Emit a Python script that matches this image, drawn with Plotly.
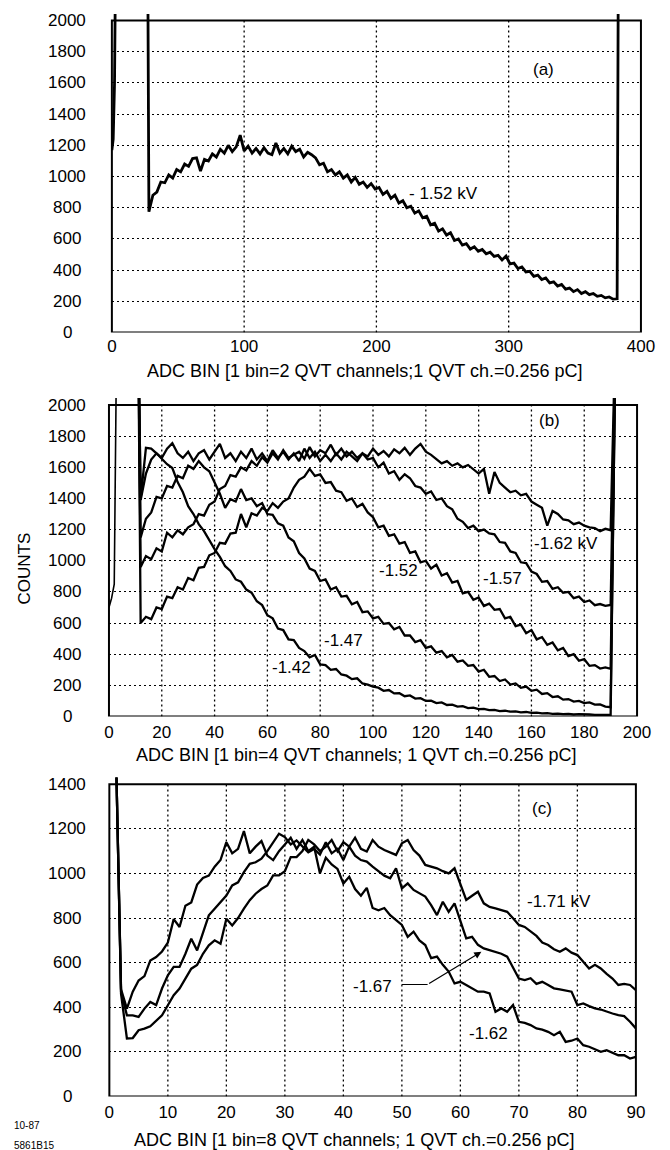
import plotly.graph_objects as go

W, H = 670, 1150
FONT = "Liberation Sans, Arial, Helvetica, sans-serif"
OFF = 2600  # counts beyond the top of the scale (drawn clipped)

# ---------------- Panel (a): -1.52 kV, 1 bin = 2 QVT channels ----------------
A_PRE_BINS = [0, 1, 2, 3, 27]
A_PRE_COUNTS = [1170, 1240, 1600, OFF, OFF]
A_START, A_STEP = 28, 3
A_COUNTS = [
    775, 880, 900, 965, 960, 1010, 990, 1045, 1030, 1080,
    1065, 1115, 1120, 1035, 1110, 1100, 1145, 1125, 1175, 1150,
    1200, 1160, 1190, 1265, 1165, 1195, 1150, 1180, 1145, 1185,
    1150, 1140, 1215, 1150, 1180, 1145, 1195, 1160, 1175, 1125,
    1155, 1140, 1120, 1075, 1085, 1030, 1045, 1010, 1030, 990,
    1010, 965, 995, 950, 965, 930, 955, 920, 930, 885,
    905, 860, 880, 830, 845, 800, 810, 765, 780, 735,
    745, 690, 700, 650, 665, 625, 640, 590, 600, 560,
    570, 535, 550, 520, 532, 505, 515, 488, 495, 465,
    490, 440, 445, 410, 420, 388, 392, 360, 368, 340,
    350, 318, 325, 298, 308, 278, 285, 262, 275, 250,
    262, 243, 250, 232, 238, 222, 228, 214, 216,
]
A_END_BIN = 383
A_XTICKS = [0, 100, 200, 300, 400]
A_YTICKS = [0, 200, 400, 600, 800, 1000, 1200, 1400, 1600, 1800, 2000]
A_LABELS = [("(a)", 326, 1683), ("- 1.52 kV", 251, 892)]

# ---------------- Panel (b): 1 bin = 4 QVT channels ----------------
B_PRE_BINS = [0, 1, 2, 3, 11]
B_PRE_COUNTS = [700, 760, 850, OFF, OFF]
B_START, B_STEP = 12, 2
B_FIRST_BIN, B_END_BIN = 11, 192
B_142 = [
    1400, 1725, 1720, 1690, 1655, 1620, 1595, 1505, 1440, 1350,
    1300, 1235, 1190, 1130, 1075, 1025, 965, 935, 880, 865,
    815, 795, 740, 715, 650, 630, 565, 555, 495, 490,
    440, 420, 380, 395, 335, 330, 300, 305, 270, 262,
    240, 245, 212, 205, 192, 185, 165, 170, 148, 150,
    130, 135, 115, 118, 100, 102, 86, 90, 74, 76,
    63, 66, 54, 57, 47, 49, 41, 43, 35, 37,
    31, 33, 27, 29, 23, 25, 20, 21, 17, 19,
    15, 17, 13, 15, 12, 13, 11, 12, 10, 10,
]
B_147 = [
    1150, 1270, 1310, 1410, 1400, 1480, 1470, 1545, 1530, 1610,
    1590, 1640, 1600, 1575, 1500, 1430, 1340, 1395, 1380, 1460,
    1390, 1400, 1350, 1370, 1300, 1295, 1240, 1225, 1150, 1125,
    1050, 1015, 950, 935, 870, 880, 815, 830, 770, 775,
    720, 735, 670, 675, 630, 640, 595, 600, 560, 575,
    520, 520, 478, 490, 440, 450, 410, 420, 380, 395,
    352, 360, 325, 330, 288, 300, 255, 260, 228, 238,
    205, 212, 184, 192, 165, 172, 145, 150, 125, 130,
    108, 112, 96, 100, 86, 90, 76, 78, 64, 60,
]
B_152 = [
    600, 640, 625, 700, 690, 770, 760, 830, 815, 890,
    875, 955, 960, 1035, 1050, 1115, 1110, 1175, 1180, 1300,
    1215, 1305, 1290, 1340, 1320, 1370, 1340, 1380, 1400, 1470,
    1520, 1540, 1590, 1545, 1555, 1500, 1505, 1450, 1440, 1385,
    1400, 1345, 1365, 1310, 1280, 1215, 1225, 1160, 1170, 1110,
    1120, 1050, 1060, 990, 1000, 950, 975, 905, 920, 860,
    870, 790, 800, 750, 765, 710, 725, 685, 690, 630,
    640, 580, 590, 535, 555, 495, 510, 460, 475, 425,
    440, 388, 400, 358, 368, 325, 330, 308, 315, 306,
]
B_157 = [
    1390, 1560, 1650, 1690, 1660, 1720, 1755, 1690, 1660, 1700,
    1640, 1690, 1710, 1650, 1700, 1750, 1660, 1690, 1640, 1700,
    1660, 1720, 1650, 1690, 1640, 1710, 1660, 1700, 1650, 1690,
    1640, 1720, 1660, 1700, 1640, 1680, 1640, 1690, 1650, 1700,
    1670, 1640, 1690, 1650, 1660, 1600, 1630, 1560, 1575, 1520,
    1555, 1530, 1480, 1470, 1430, 1445, 1390, 1400, 1350, 1330,
    1270, 1250, 1210, 1225, 1190, 1200, 1175, 1170, 1120, 1115,
    1060, 1050, 990, 985, 930, 915, 865, 870, 820, 830,
    795, 800, 760, 770, 735, 745, 715, 722, 710, 716,
]
B_162 = [
    960, 1030, 1010, 1080, 1060, 1180, 1150, 1195, 1170, 1215,
    1235, 1300, 1290, 1360, 1380, 1460, 1480, 1550, 1540, 1600,
    1580, 1640, 1610, 1665, 1630, 1690, 1650, 1710, 1660, 1680,
    1700, 1655, 1730, 1670, 1710, 1690, 1745, 1680, 1720, 1670,
    1700, 1660, 1690, 1670, 1720, 1680, 1705, 1670, 1715, 1690,
    1725, 1680, 1720, 1750, 1700, 1680, 1650, 1625, 1640, 1610,
    1625, 1600, 1615, 1590, 1560, 1590, 1430, 1570, 1500, 1470,
    1440, 1450, 1420, 1430, 1380, 1360, 1340, 1225, 1320, 1300,
    1265, 1260, 1235, 1245, 1225, 1215, 1210, 1190, 1205, 1196,
]
B_SERIES = [B_142, B_147, B_152, B_157, B_162]
B_XTICKS = [0, 20, 40, 60, 80, 100, 120, 140, 160, 180, 200]
B_YTICKS = A_YTICKS
B_LABELS = [("(b)", 167, 1900), ("-1.62 kV", 173, 1110), ("-1.57", 149, 885),
            ("-1.52", 109.5, 939), ("-1.47", 89, 485), ("-1.42", 69, 314)]

# ---------------- Panel (c): 1 bin = 8 QVT channels ----------------
C_START = 1
C_162 = [
    1700, 480, 394, 470, 520, 540, 610, 625, 650, 690,
    795, 760, 855, 870, 950, 980, 990, 1030, 1060, 1140,
    1090, 1110, 1190, 1090, 1120, 1145, 1080, 1060, 1100, 1130,
    1160, 1110, 1150, 1100, 1120, 1000, 1070, 1040, 1020, 955,
    985, 930, 900, 935, 845, 835, 845, 813, 790, 769,
    716, 739, 700, 679, 620, 627, 590, 560, 507, 514,
    500, 485, 470, 470, 462, 380, 395, 380, 410, 335,
    330, 320, 305, 300, 290, 275, 290, 245, 250, 260,
    230, 223, 210, 200, 208, 195, 185, 185, 170, 178,
]
C_167 = [
    1700, 470, 364, 364, 357, 394, 424, 410, 484, 543,
    581, 581, 640, 707, 655, 737, 812, 842, 870, 901,
    946, 960, 1006, 1043, 1050, 1066, 1100, 1140, 1178, 1163,
    1130, 1148, 1120, 1095, 1110, 1085, 1140, 1090, 1110, 1060,
    1120, 1080, 1060, 1053, 1030, 1008, 990, 978, 1023, 933,
    955, 926, 910, 896, 858, 813, 873, 828, 866, 784,
    709, 716, 680, 664, 655, 649, 640, 627, 580, 529,
    522, 530, 505, 514, 500, 485, 480, 475, 470, 410,
    417, 405, 395, 390, 380, 372, 365, 360, 335, 305,
]
C_171 = [
    1700, 460, 260, 262, 297, 304, 315, 340, 364, 409,
    454, 484, 530, 573, 590, 640, 678, 700, 685, 797,
    767, 800, 842, 880, 909, 930, 946, 991, 991, 1010,
    1073, 1073, 1100, 1150, 1130, 1100, 1120, 1150, 1100, 1140,
    1120, 1160, 1110, 1098, 1150, 1120, 1105, 1095, 1083, 1135,
    1150, 1105, 1080, 1038, 1030, 1023, 1010, 1000, 1023, 948,
    881, 900, 918, 866, 850, 843, 835, 828, 799, 769,
    760, 739, 720, 690, 679, 660, 649, 664, 645, 634,
    604, 574, 590, 574, 550, 529, 500, 505, 500, 477,
]
C_SERIES = [C_162, C_167, C_171]
C_XTICKS = [0, 10, 20, 30, 40, 50, 60, 70, 80, 90]
C_YTICKS = [0, 200, 400, 600, 800, 1000, 1200, 1400]
C_LABELS = [("(c)", 74, 1292), ("-1.71 kV", 76.8, 873), ("-1.62", 64.8, 283),
            ("-1.67", 45, 492)]
C_ARROW = (50, 54.4, 502, 63.6, 649)  # label leader: x start, x kink, y, head x, head y

TITLES = [
    "ADC BIN [1 bin=2 QVT channels;1 QVT ch.=0.256 pC]",
    "ADC BIN [1 bin=4 QVT channels; 1 QVT ch.=0.256 pC]",
    "ADC BIN [1 bin=8 QVT channels; 1 QVT ch.=0.256 pC]",
]

# ---------------- layout geometry (pixels) ----------------
PANELS = [
    dict(l=110, r=654.5, t=14, b=332.5, xr=[0, 400], yr=[0, 2042], ftop=2000,
         title_x=370, title_y=371, lw=2.8, standoff=1),
    dict(l=107, r=650.5, t=398, b=716.5, xr=[0, 200], yr=[0, 2045], ftop=2000,
         title_x=362, title_y=755, lw=2.3, standoff=3),
    dict(l=107.4, r=649.3, t=777.5, b=1096.5, xr=[0, 90], yr=[0, 1430], ftop=1400,
         title_x=360, title_y=1140, lw=2.3, standoff=3),
]
XTICKS = [A_XTICKS, B_XTICKS, C_XTICKS]
YTICKS = [A_YTICKS, B_YTICKS, C_YTICKS]
LABELS = [A_LABELS, B_LABELS, C_LABELS]

fig = go.Figure()

# panel a
a_x = A_PRE_BINS + list(range(A_START, A_START + A_STEP * len(A_COUNTS), A_STEP)) + [A_END_BIN]
a_y = A_PRE_COUNTS + A_COUNTS + [OFF]
fig.add_trace(go.Scatter(x=a_x, y=a_y, mode="lines",
                         line=dict(color="black", width=PANELS[0]["lw"]),
                         xaxis="x", yaxis="y", showlegend=False, hoverinfo="skip"))

# panel b
fig.add_trace(go.Scatter(x=B_PRE_BINS, y=B_PRE_COUNTS, mode="lines",
                         line=dict(color="black", width=1.6),
                         xaxis="x2", yaxis="y2", showlegend=False, hoverinfo="skip"))
for vals in B_SERIES:
    bx = [B_FIRST_BIN] + list(range(B_START, B_START + B_STEP * len(vals), B_STEP)) + [B_END_BIN]
    by = [OFF] + vals + [OFF]
    fig.add_trace(go.Scatter(x=bx, y=by, mode="lines",
                             line=dict(color="black", width=PANELS[1]["lw"]),
                             xaxis="x2", yaxis="y2", showlegend=False, hoverinfo="skip"))

# panel c
for vals in C_SERIES:
    cx = list(range(C_START, C_START + len(vals)))
    fig.add_trace(go.Scatter(x=cx, y=vals, mode="lines",
                             line=dict(color="black", width=PANELS[2]["lw"]),
                             xaxis="x3", yaxis="y3", showlegend=False, hoverinfo="skip"))

GRID_DASH = "2px,3px"
GRID_W = 1.3
shapes, annots = [], []
layout_axes = {}
for i, p in enumerate(PANELS):
    n = "" if i == 0 else str(i + 1)
    xa, ya = "x" + n, "y" + n
    layout_axes["xaxis" + n] = dict(
        domain=[p["l"] / W, p["r"] / W], range=p["xr"], anchor=ya,
        showgrid=False, zeroline=False, showline=False, ticks="",
        tickvals=XTICKS[i], ticktext=[str(v) for v in XTICKS[i]],
        tickfont=dict(family=FONT, size=17, color="black"),
        ticklabelstandoff=p["standoff"], fixedrange=True)
    layout_axes["yaxis" + n] = dict(
        domain=[1 - p["b"] / H, 1 - p["t"] / H], range=p["yr"], anchor=xa,
        showgrid=True, gridcolor="black", gridwidth=GRID_W, griddash=GRID_DASH,
        zeroline=False, showline=False, ticks="", tickvals=YTICKS[i],
        showticklabels=False, fixedrange=True)
    # frame
    shapes.append(dict(type="rect", xref=xa + " domain", yref=ya, x0=0, x1=1,
                       y0=0, y1=p["ftop"], line=dict(color="black", width=2), layer="above"))
    # vertical dotted grid lines
    for v in XTICKS[i][1:-1]:
        shapes.append(dict(type="line", xref=xa, yref=ya, x0=v, x1=v, y0=0, y1=p["ftop"],
                           line=dict(color="black", width=GRID_W, dash=GRID_DASH),
                           layer="below"))
    # y tick labels (centred column, as on the original)
    for v in YTICKS[i]:
        annots.append(dict(xref="paper", yref=ya, x=64 / W, y=v, text=str(v),
                           showarrow=False, xanchor="center", yanchor="middle",
                           font=dict(family=FONT, size=17, color="black")))
    # axis title
    annots.append(dict(xref="paper", yref="paper", x=p["title_x"] / W,
                       y=1 - p["title_y"] / H,
                       text=TITLES[i], showarrow=False, xanchor="center", yanchor="middle",
                       font=dict(family=FONT, size=18, color="black")))
    # curve labels
    for txt, lx, ly in LABELS[i]:
        annots.append(dict(xref=xa, yref=ya, x=lx, y=ly, text=txt, showarrow=False,
                           xanchor="center", yanchor="middle",
                           font=dict(family=FONT, size=17, color="black")))

# leader for the -1.67 label
x0, xk, yl, hx, hy = C_ARROW
shapes.append(dict(type="line", xref="x3", yref="y3", x0=x0, x1=xk, y0=yl, y1=yl,
                   line=dict(color="black", width=1.2)))
annots.append(dict(xref="x3", yref="y3", axref="x3", ayref="y3", x=hx, y=hy, ax=xk, ay=yl,
                   text="", showarrow=True, arrowhead=2, arrowsize=1.2, arrowwidth=1.2,
                   arrowcolor="black"))

annots.append(dict(xref="paper", yref="paper", x=21 / W, y=1 - 568 / H, text="COUNTS",
                   textangle=-90, showarrow=False, xanchor="center", yanchor="middle",
                   font=dict(family=FONT, size=17, color="black")))
annots.append(dict(xref="paper", yref="paper", x=7 / W, y=1 - 1125 / H, text="10-87",
                   showarrow=False, xanchor="left", yanchor="middle",
                   font=dict(family=FONT, size=10, color="black")))
annots.append(dict(xref="paper", yref="paper", x=7 / W, y=1 - 1145 / H, text="5861B15",
                   showarrow=False, xanchor="left", yanchor="middle",
                   font=dict(family=FONT, size=10, color="black")))

fig.update_layout(width=W, height=H, autosize=False,
                  margin=dict(l=0, r=0, t=0, b=0, pad=0),
                  paper_bgcolor="white", plot_bgcolor="white",
                  shapes=shapes, annotations=annots, showlegend=False,
                  **layout_axes)
fig.write_html("out.html", config={"displayModeBar": False})
